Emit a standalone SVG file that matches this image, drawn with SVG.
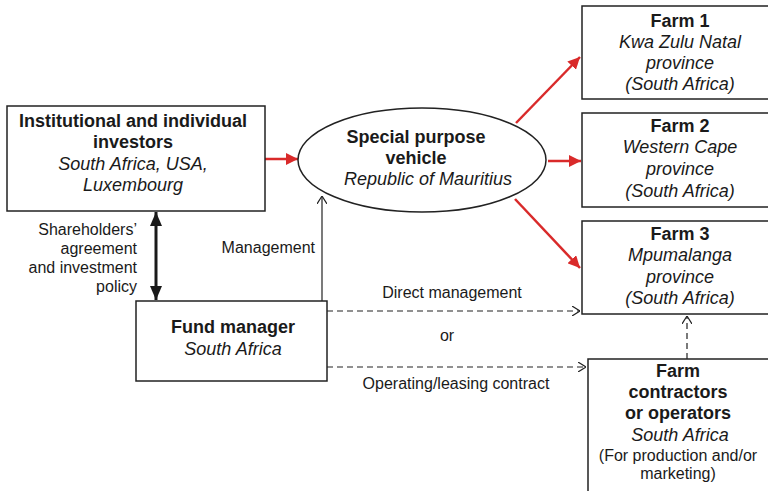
<svg xmlns="http://www.w3.org/2000/svg" width="768" height="491" viewBox="0 0 768 491">
<defs>
<marker id="red" viewBox="0 0 12 12" refX="12" refY="6" markerWidth="12" markerHeight="12" orient="auto" markerUnits="userSpaceOnUse">
<path d="M0,0 L12,6 L0,12 Z" fill="#d92a2a"/>
</marker>
<marker id="blk" viewBox="0 0 14 12" refX="14" refY="6" markerWidth="14" markerHeight="12" orient="auto-start-reverse" markerUnits="userSpaceOnUse">
<path d="M0,0 L14,6 L0,12 Z" fill="#1a1a1a"/>
</marker>
<marker id="open" viewBox="0 0 8 10" refX="8" refY="5" markerWidth="8" markerHeight="10" orient="auto" markerUnits="userSpaceOnUse">
<path d="M0,0 L8,5 L0,10" fill="none" stroke="#222" stroke-width="1.2"/>
</marker>
</defs>
<style>
.box{fill:#fff;stroke:#222;stroke-width:1.5}
text{font-family:"Liberation Sans",Arial,sans-serif;fill:#1a1a1a;text-anchor:middle}
.b{font-weight:bold;font-size:18px}
.i{font-style:italic;font-size:18px}
.n{font-size:16px}
.red{stroke:#d92a2a;stroke-width:2.5;fill:none}
.thin{stroke:#222;stroke-width:1.2;fill:none}
.dash{stroke:#222;stroke-width:1.2;fill:none;stroke-dasharray:6,4}
</style>
<rect width="768" height="491" fill="#fff"/>
<g id="connectors">
<line class="red" x1="265" y1="159" x2="298" y2="159" marker-end="url(#red)"/>
<line class="red" x1="516" y1="123" x2="580" y2="57" marker-end="url(#red)"/>
<line class="red" x1="548" y1="161" x2="581" y2="161" marker-end="url(#red)"/>
<line class="red" x1="515" y1="199" x2="580" y2="268" marker-end="url(#red)"/>
<line x1="156" y1="212" x2="156" y2="300" stroke="#1a1a1a" stroke-width="3" marker-start="url(#blk)" marker-end="url(#blk)"/>
<line class="thin" x1="322" y1="301" x2="322" y2="196" marker-end="url(#open)"/>
<line class="dash" x1="327" y1="311" x2="580" y2="311" marker-end="url(#open)"/>
<line class="dash" x1="327" y1="367" x2="586" y2="367" marker-end="url(#open)"/>
<line class="dash" x1="687" y1="359" x2="687" y2="316" marker-end="url(#open)"/>
<text class="n" x="137" y="235" style="text-anchor:end">Shareholders’</text>
<text class="n" x="137" y="254" style="text-anchor:end">agreement</text>
<text class="n" x="137" y="273" style="text-anchor:end">and investment</text>
<text class="n" x="137" y="292" style="text-anchor:end">policy</text>
<text class="n" x="315" y="253" style="text-anchor:end">Management</text>
<text class="n" x="452" y="298">Direct management</text>
<text class="n" x="447" y="341">or</text>
<text class="n" x="456" y="389">Operating/leasing contract</text>
</g>
<g id="investors">
<rect class="box" x="7" y="106" width="258" height="105"/>
<text class="b" x="133" y="127">Institutional and individual</text>
<text class="b" x="133" y="148">investors</text>
<text class="i" x="133" y="170">South Africa, USA,</text>
<text class="i" x="133" y="191">Luxembourg</text>
</g>
<g id="spv">
<ellipse cx="422" cy="160" rx="124" ry="52" fill="#fff" stroke="#222" stroke-width="1.5"/>
<text class="b" x="416" y="143">Special purpose</text>
<text class="b" x="416" y="164">vehicle</text>
<text class="i" x="428" y="185">Republic of Mauritius</text>
</g>
<g id="farm1">
<rect class="box" x="582" y="6" width="190" height="93"/>
<text class="b" x="680" y="27">Farm 1</text>
<text class="i" x="680" y="48">Kwa Zulu Natal</text>
<text class="i" x="680" y="69">province</text>
<text class="i" x="680" y="90">(South Africa)</text>
</g>
<g id="farm2">
<rect class="box" x="582" y="113" width="190" height="94"/>
<text class="b" x="680" y="132">Farm 2</text>
<text class="i" x="680" y="153">Western Cape</text>
<text class="i" x="680" y="175">province</text>
<text class="i" x="680" y="197">(South Africa)</text>
</g>
<g id="farm3">
<rect class="box" x="582" y="221" width="190" height="93"/>
<text class="b" x="680" y="240">Farm 3</text>
<text class="i" x="680" y="261">Mpumalanga</text>
<text class="i" x="680" y="283">province</text>
<text class="i" x="680" y="304">(South Africa)</text>
</g>
<g id="fundmanager">
<rect class="box" x="136" y="301" width="191" height="80"/>
<text class="b" x="233" y="333">Fund manager</text>
<text class="i" x="233" y="355">South Africa</text>
</g>
<g id="contractors">
<rect class="box" x="588" y="359" width="190" height="140"/>
<text class="b" x="678" y="377">Farm</text>
<text class="b" x="678" y="398">contractors</text>
<text class="b" x="678" y="419">or operators</text>
<text class="i" x="680" y="441">South Africa</text>
<text class="n" x="678" y="461">(For production and/or</text>
<text class="n" x="678" y="479">marketing)</text>
</g>
</svg>
